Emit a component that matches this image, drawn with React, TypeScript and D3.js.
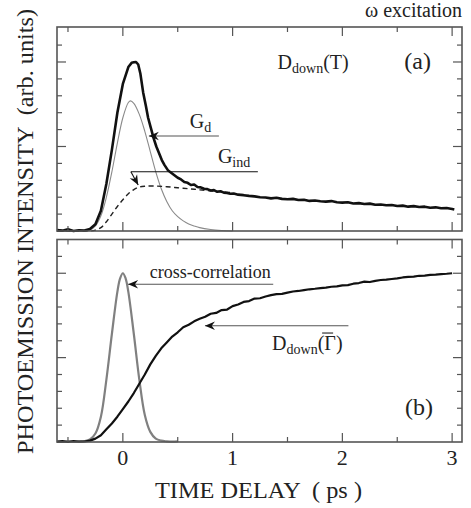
import React from "react";
import * as d3 from "d3";

// ---------- data ----------
// Panel (a): D_down(T) measured trace
const timeA = [-0.6,-0.55,-0.5,-0.45,-0.4,-0.35,-0.3,-0.25,-0.2,-0.15,-0.1,-0.05,0,0.05,0.08,0.1,0.12,0.14,0.16,0.185,0.21,0.23,0.255,0.28,0.305,0.33,0.355,0.38,0.41,0.44,0.47,0.5,0.53,0.56,0.59,0.62,0.65,0.68,0.71,0.74,0.77,0.8,0.83,0.86,0.89,0.92,0.95,0.98,1.01,1.05,1.1,1.15,1.2,1.25,1.3,1.35,1.4,1.45,1.5,1.55,1.6,1.65,1.7,1.75,1.8,1.85,1.9,1.95,2,2.05,2.1,2.15,2.2,2.25,2.3,2.35,2.4,2.45,2.5,2.55,2.6,2.65,2.7,2.75,2.8,2.85,2.9,2.95,3,3.02];
const dDownT = [0.05,0.02,0.1,0.0,0.04,0.03,0.12,0.4,1.2,2.8,4.8,7.0,8.7,9.7,9.95,9.98,10.0,9.85,9.3,8.2,7.4,6.7,6.1,5.5,5.0,4.6,4.2,3.9,3.6,3.45,3.3,3.15,3.05,2.9,2.85,2.72,2.75,2.6,2.58,2.5,2.48,2.4,2.42,2.32,2.35,2.27,2.25,2.2,2.22,2.15,2.12,2.08,2.05,2.0,1.98,1.93,1.97,1.9,1.88,1.9,1.83,1.85,1.78,1.8,1.76,1.74,1.77,1.7,1.68,1.7,1.63,1.65,1.6,1.62,1.55,1.57,1.52,1.54,1.48,1.5,1.44,1.47,1.42,1.44,1.38,1.4,1.35,1.36,1.3,1.27];

// Panel (a): G_d fit component (thin grey)
const timeGd = [-0.6,-0.4,-0.3,-0.25,-0.2,-0.15,-0.1,-0.05,0,0.05,0.07,0.1,0.15,0.2,0.25,0.3,0.35,0.4,0.45,0.5,0.55,0.6,0.65,0.7,0.8,0.9,1.0];
const gD = [0,0,0.05,0.3,0.9,2.0,3.5,5.2,6.7,7.6,7.7,7.55,6.9,5.9,4.7,3.5,2.5,1.75,1.2,0.85,0.6,0.42,0.3,0.2,0.09,0.03,0.0];

// Panel (a): G_ind fit component (dashed)
const timeGind = [-0.6,-0.3,-0.25,-0.2,-0.15,-0.1,-0.05,0,0.05,0.1,0.15,0.2,0.3,0.4,0.5,0.6,0.7,0.8,0.9,1.0];
const gInd = [0,0,0.05,0.2,0.55,1.0,1.45,1.85,2.2,2.45,2.6,2.65,2.66,2.62,2.56,2.5,2.44,2.38,2.32,2.27];

// Panel (b): cross-correlation (grey)
const timeCC = [-0.6,-0.55,-0.5,-0.45,-0.4,-0.35,-0.3,-0.25,-0.2,-0.15,-0.1,-0.05,-0.025,0,0.025,0.05,0.1,0.15,0.2,0.25,0.3,0.35,0.4,0.45,0.5];
const crossCorr = [0.03,0.0,0.06,0.0,0.03,0.05,0.15,0.5,1.5,3.7,6.4,8.9,9.7,10.0,9.7,8.9,6.4,3.7,1.6,0.6,0.2,0.08,0.04,0.02,0.04];

// Panel (b): D_down(Gamma-bar)
const timeB = [-0.6,-0.55,-0.5,-0.45,-0.4,-0.35,-0.3,-0.25,-0.2,-0.15,-0.1,-0.05,0,0.05,0.1,0.15,0.2,0.25,0.3,0.35,0.4,0.45,0.5,0.55,0.6,0.65,0.7,0.75,0.8,0.85,0.9,0.95,1.0,1.05,1.1,1.15,1.2,1.25,1.3,1.35,1.4,1.45,1.5,1.55,1.6,1.65,1.7,1.75,1.8,1.85,1.9,1.95,2.0,2.05,2.1,2.15,2.2,2.25,2.3,2.35,2.4,2.45,2.5,2.55,2.6,2.65,2.7,2.75,2.8,2.85,2.9,2.95,3.0];
const dDownG = [0.02,0.05,0.0,0.06,0.02,0.03,0.08,0.2,0.4,0.75,1.1,1.5,1.95,2.4,2.9,3.45,4.0,4.6,5.1,5.55,5.9,6.25,6.5,6.8,6.95,7.15,7.3,7.42,7.6,7.65,7.82,7.85,8.05,8.15,8.3,8.35,8.5,8.52,8.62,8.7,8.76,8.78,8.85,8.92,8.95,9.0,9.05,9.08,9.12,9.15,9.2,9.22,9.28,9.3,9.38,9.42,9.5,9.48,9.55,9.6,9.62,9.66,9.7,9.75,9.78,9.8,9.85,9.86,9.9,9.92,9.95,9.97,10.0];

const xMajorTicks = [0, 1, 2, 3];
const xMinorTicks = [-0.5, 0.5, 1.5, 2.5];
const yMajorTicks = [5, 10];
const yMinorTicks = [1, 2, 3, 4, 6, 7, 8, 9, 11];

// ---------- layout ----------
const W = 471, H = 508;
const left = 57, right = 462;
const topA = 27, botA = 231;
const topB = 239.5, botB = 442;
const FONT = '"Liberation Serif", "Times New Roman", Times, "DejaVu Serif", serif';
const frameColor = "#555";
const textStyle = { fontFamily: FONT };

const x = d3.scaleLinear().domain([-0.6, 3.09]).range([left, right]);
const yA = d3.scaleLinear().domain([0, 12.07]).range([botA, topA]);
const yB = d3.scaleLinear().domain([0, 12.0]).range([botB, topB]);

function zip(t: number[], v: number[]) {
  return t.map((tt, i) => [tt, v[i]] as [number, number]);
}

function Arrow({ tx, ty, angle }: { tx: number; ty: number; angle: number }) {
  return (
    <path
      d="M0,0 L-10,-4.2 L-6.8,0 L-10,4.2 Z"
      fill="#111"
      transform={`translate(${tx},${ty}) rotate(${angle})`}
    />
  );
}

function Frame({ y, top, bot }: { y: d3.ScaleLinear<number, number>; top: number; bot: number }) {
  return (
    <g>
      {xMajorTicks.map((t) => (
        <g key={"xM" + t}>
          <line x1={x(t)} x2={x(t)} y1={top} y2={top + 9} stroke={frameColor} strokeWidth={1.2} />
          <line x1={x(t)} x2={x(t)} y1={bot} y2={bot - 9} stroke={frameColor} strokeWidth={1.2} />
        </g>
      ))}
      {xMinorTicks.map((t) => (
        <g key={"xm" + t}>
          <line x1={x(t)} x2={x(t)} y1={top} y2={top + 5} stroke={frameColor} strokeWidth={1.2} />
          <line x1={x(t)} x2={x(t)} y1={bot} y2={bot - 5} stroke={frameColor} strokeWidth={1.2} />
        </g>
      ))}
      {yMajorTicks.map((v) => (
        <g key={"yM" + v}>
          <line x1={left} x2={left + 9} y1={y(v)} y2={y(v)} stroke={frameColor} strokeWidth={1.2} />
          <line x1={right} x2={right - 9} y1={y(v)} y2={y(v)} stroke={frameColor} strokeWidth={1.2} />
        </g>
      ))}
      {yMinorTicks.map((v) => (
        <g key={"ym" + v}>
          <line x1={left} x2={left + 5} y1={y(v)} y2={y(v)} stroke={frameColor} strokeWidth={1.2} />
          <line x1={right} x2={right - 5} y1={y(v)} y2={y(v)} stroke={frameColor} strokeWidth={1.2} />
        </g>
      ))}
      <rect x={left} y={top} width={right - left} height={bot - top} fill="none" stroke={frameColor} strokeWidth={1.6} />
    </g>
  );
}

export default function App() {
  const lineA = d3.line<[number, number]>().x((d) => x(d[0])).y((d) => yA(d[1]));
  const smoothA = d3.line<[number, number]>().x((d) => x(d[0])).y((d) => yA(d[1])).curve(d3.curveCatmullRom);
  const lineB = d3.line<[number, number]>().x((d) => x(d[0])).y((d) => yB(d[1]));
  const smoothB = d3.line<[number, number]>().x((d) => x(d[0])).y((d) => yB(d[1])).curve(d3.curveCatmullRom);

  const gdTip = [x(0.237), yA(5.62)];
  const gdEnd = x(0.875);
  const giStart = [x(0.073), yA(3.51)];
  const giEnd = x(1.23);
  const giTip = [x(0.14), yA(2.72)];
  const giAngle = (Math.atan2(giTip[1] - giStart[1], giTip[0] - giStart[0]) * 180) / Math.PI;

  const ccTip = [x(0.048), yB(9.35)];
  const ccEnd = x(1.37);
  const dgTip = [x(0.748), yB(6.89)];
  const dgEnd = x(2.055);

  const dgX = x(1.36);
  const dgY = yB(5.45);

  return (
    <svg width={W} height={H} style={{ position: "absolute", left: 0, top: 0, background: "#fff", fontFamily: FONT }}>
      <rect x={0} y={0} width={W} height={H} fill="#fff" />

      {/* panel (a) */}
      <path d={smoothA(zip(timeGd, gD)) || ""} fill="none" stroke="#8a8a8a" strokeWidth={1.1} />
      <path d={smoothA(zip(timeGind, gInd)) || ""} fill="none" stroke="#222" strokeWidth={1.4} strokeDasharray="5,3.5" />
      <path d={lineA(zip(timeA, dDownT)) || ""} fill="none" stroke="#111" strokeWidth={2.6} strokeLinejoin="round" />

      {/* panel (b) */}
      <path d={smoothB(zip(timeCC, crossCorr)) || ""} fill="none" stroke="#808080" strokeWidth={2.2} />
      <path d={lineB(zip(timeB, dDownG)) || ""} fill="none" stroke="#111" strokeWidth={2.2} strokeLinejoin="round" />

      <Frame y={yA} top={topA} bot={botA} />
      <Frame y={yB} top={topB} bot={botB} />

      {/* annotations panel (a) */}
      <line x1={gdTip[0]} x2={gdEnd} y1={gdTip[1]} y2={gdTip[1]} stroke="#555" strokeWidth={1.1} />
      <Arrow tx={gdTip[0]} ty={gdTip[1]} angle={180} />
      <text x={x(0.61)} y={yA(6.09)} fontSize={20} fill="#222" style={textStyle}>
        G<tspan fontSize={14} dy={4}>d</tspan>
      </text>

      <line x1={giStart[0]} x2={giEnd} y1={giStart[1]} y2={giStart[1]} stroke="#111" strokeWidth={1.1} />
      <line x1={giStart[0]} x2={giTip[0]} y1={giStart[1]} y2={giTip[1]} stroke="#111" strokeWidth={1.1} />
      <Arrow tx={giTip[0]} ty={giTip[1]} angle={giAngle} />
      <text x={x(0.866)} y={yA(4.05)} fontSize={20} fill="#222" style={textStyle}>
        G<tspan fontSize={14} dy={4}>ind</tspan>
      </text>

      <text x={x(1.41)} y={yA(9.6)} fontSize={20} fill="#222" style={textStyle}>
        D<tspan fontSize={14} dy={4}>down</tspan>
        <tspan dy={-4}>(T)</tspan>
      </text>
      <text x={431} y={yA(9.6)} fontSize={24} fill="#222" textAnchor="end" style={textStyle}>(a)</text>

      <text x={right} y={17} fontSize={20} fill="#222" textAnchor="end" style={textStyle}>ω excitation</text>

      {/* annotations panel (b) */}
      <line x1={ccTip[0]} x2={ccEnd} y1={ccTip[1]} y2={ccTip[1]} stroke="#555" strokeWidth={1.1} />
      <Arrow tx={ccTip[0]} ty={ccTip[1]} angle={180} />
      <text x={x(0.246)} y={yB(9.7)} fontSize={18} fill="#222" style={textStyle}>cross-correlation</text>

      <line x1={dgTip[0]} x2={dgEnd} y1={dgTip[1]} y2={dgTip[1]} stroke="#555" strokeWidth={1.1} />
      <Arrow tx={dgTip[0]} ty={dgTip[1]} angle={180} />
      <text x={dgX} y={dgY} fontSize={20} fill="#222" style={textStyle}>
        D<tspan fontSize={14} dy={4}>down</tspan>
        <tspan dy={-4}>(Γ)</tspan>
      </text>
      <line x1={dgX + 50} x2={dgX + 61} y1={dgY - 17} y2={dgY - 17} stroke="#222" strokeWidth={1.1} />
      <text x={433} y={yB(1.6)} fontSize={24} fill="#222" textAnchor="end" style={textStyle}>(b)</text>

      {/* x tick labels */}
      {xMajorTicks.map((t) => (
        <text key={"xl" + t} x={x(t)} y={465} fontSize={22} fill="#222" textAnchor="middle" style={textStyle}>
          {t}
        </text>
      ))}
      <text
        x={(left + right) / 2 - 1}
        y={498}
        fontSize={22.5}
        fill="#222"
        textAnchor="middle"
        textLength={207}
        lengthAdjust="spacingAndGlyphs"
        style={{ ...textStyle, whiteSpace: "pre" }}
      >
        {"TIME DELAY  ( ps )"}
      </text>

      {/* y label */}
      <text
        transform={`translate(33,231.5) rotate(-90)`}
        fontSize={24}
        fill="#222"
        textAnchor="middle"
        textLength={445}
        lengthAdjust="spacingAndGlyphs"
        style={{ ...textStyle, whiteSpace: "pre" }}
      >
        {"PHOTOEMISSION INTENSITY  (arb. units)"}
      </text>
    </svg>
  );
}
